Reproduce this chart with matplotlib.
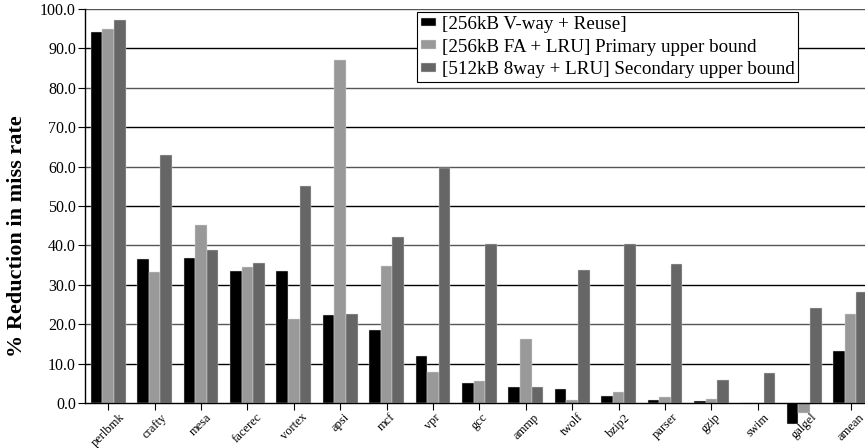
import matplotlib
matplotlib.use("Agg")
import matplotlib.pyplot as plt
import numpy as np

benchmarks = ["perlbmk", "crafty", "mesa", "facerec", "vortex", "apsi", "mcf", "vpr",
              "gcc", "ammp", "twolf", "bzip2", "parser", "gzip", "swim", "galgel", "amean"]
vway_reuse = [94.2, 36.5, 36.8, 33.6, 33.4, 22.3, 18.6, 12.0, 5.2, 4.0, 3.5, 1.9, 0.8, 0.4, 0.05, -5.3, 13.2]
fa_lru = [94.9, 33.3, 45.1, 34.6, 21.2, 87.1, 34.8, 7.8, 5.7, 16.2, 0.8, 2.9, 1.4, 0.9, 0.1, -2.6, 22.7]
way8_lru = [97.1, 63.0, 38.8, 35.5, 55.2, 22.7, 42.1, 59.6, 40.3, 4.0, 33.8, 40.3, 35.4, 5.8, 7.7, 24.0, 28.2]
series_names = ["[256kB V-way + Reuse]",
                "[256kB FA + LRU] Primary upper bound",
                "[512kB 8way + LRU] Secondary upper bound"]
colors = ["#000000", "#999999", "#666666"]
y_ticks = [0, 10, 20, 30, 40, 50, 60, 70, 80, 90, 100]

plt.rcParams["font.family"] = ["Liberation Serif", "DejaVu Serif"]

W, H = 865, 448
fig = plt.figure(figsize=(W / 100, H / 100), dpi=100)
ymin, ymax = -6, 100
top_px, zero_px = 9, 403
ppu = (zero_px - top_px) / (ymax - 0)
bottom_px = zero_px - ymin * ppu
left_px, right_px = 85, 865
ax = fig.add_axes([left_px / W, 1 - bottom_px / H, (right_px - left_px) / W, (bottom_px - top_px) / H])

x = np.arange(len(benchmarks))
bw = 0.25
for i, (vals, name, c) in enumerate(zip([vway_reuse, fa_lru, way8_lru], series_names, colors)):
    ax.bar(x + (i - 1) * bw, vals, width=bw, color=c, label=name, zorder=3,
           edgecolor="#dddddd", linewidth=0.3)

# horizontal guide lines behind the bars
for t in y_ticks[1:]:
    ax.axhline(t, color="#000000" if (t // 10) % 2 else "#555555", linewidth=1.0, zorder=1)

ax.set_ylim(ymin, ymax)
group_px = 46.4
ax.set_xlim(-0.5, -0.5 + (right_px - left_px) / group_px)

ax.spines["top"].set_visible(False)
ax.spines["right"].set_visible(False)
ax.spines["left"].set_bounds(0, 100)
ax.spines["bottom"].set_position(("data", 0))
ax.spines["bottom"].set_zorder(4)
for s in ("left", "bottom"):
    ax.spines[s].set_linewidth(1.0)

ax.set_yticks(y_ticks)
ax.set_yticklabels([f"{t:.1f}" for t in y_ticks], fontsize=11.5)
ax.set_xticks(x)
ax.set_xticklabels(benchmarks, rotation=45, ha="center", va="top", fontsize=9)
ax.tick_params(axis="y", direction="out", length=5, width=0.8, pad=1.5)
ax.tick_params(axis="x", direction="out", length=5, width=0.8, pad=1)

ax.set_ylabel("% Reduction in miss rate", fontsize=16, fontweight="bold")
ax.yaxis.set_label_coords((27 - left_px) / (right_px - left_px), (bottom_px - 236) / (bottom_px - top_px))

leg = ax.legend(loc="upper left", bbox_to_anchor=(417 / W, 1 - 12 / H), bbox_transform=fig.transFigure,
                fontsize=13.7, frameon=True, fancybox=False, edgecolor="#000000", framealpha=1,
                handlelength=0.8, handleheight=0.3, handletextpad=0.3, borderpad=0.2,
                labelspacing=0.3, borderaxespad=0)
leg.get_frame().set_linewidth(0.8)
leg.set_zorder(5)

fig.savefig("out.png", dpi=100)
